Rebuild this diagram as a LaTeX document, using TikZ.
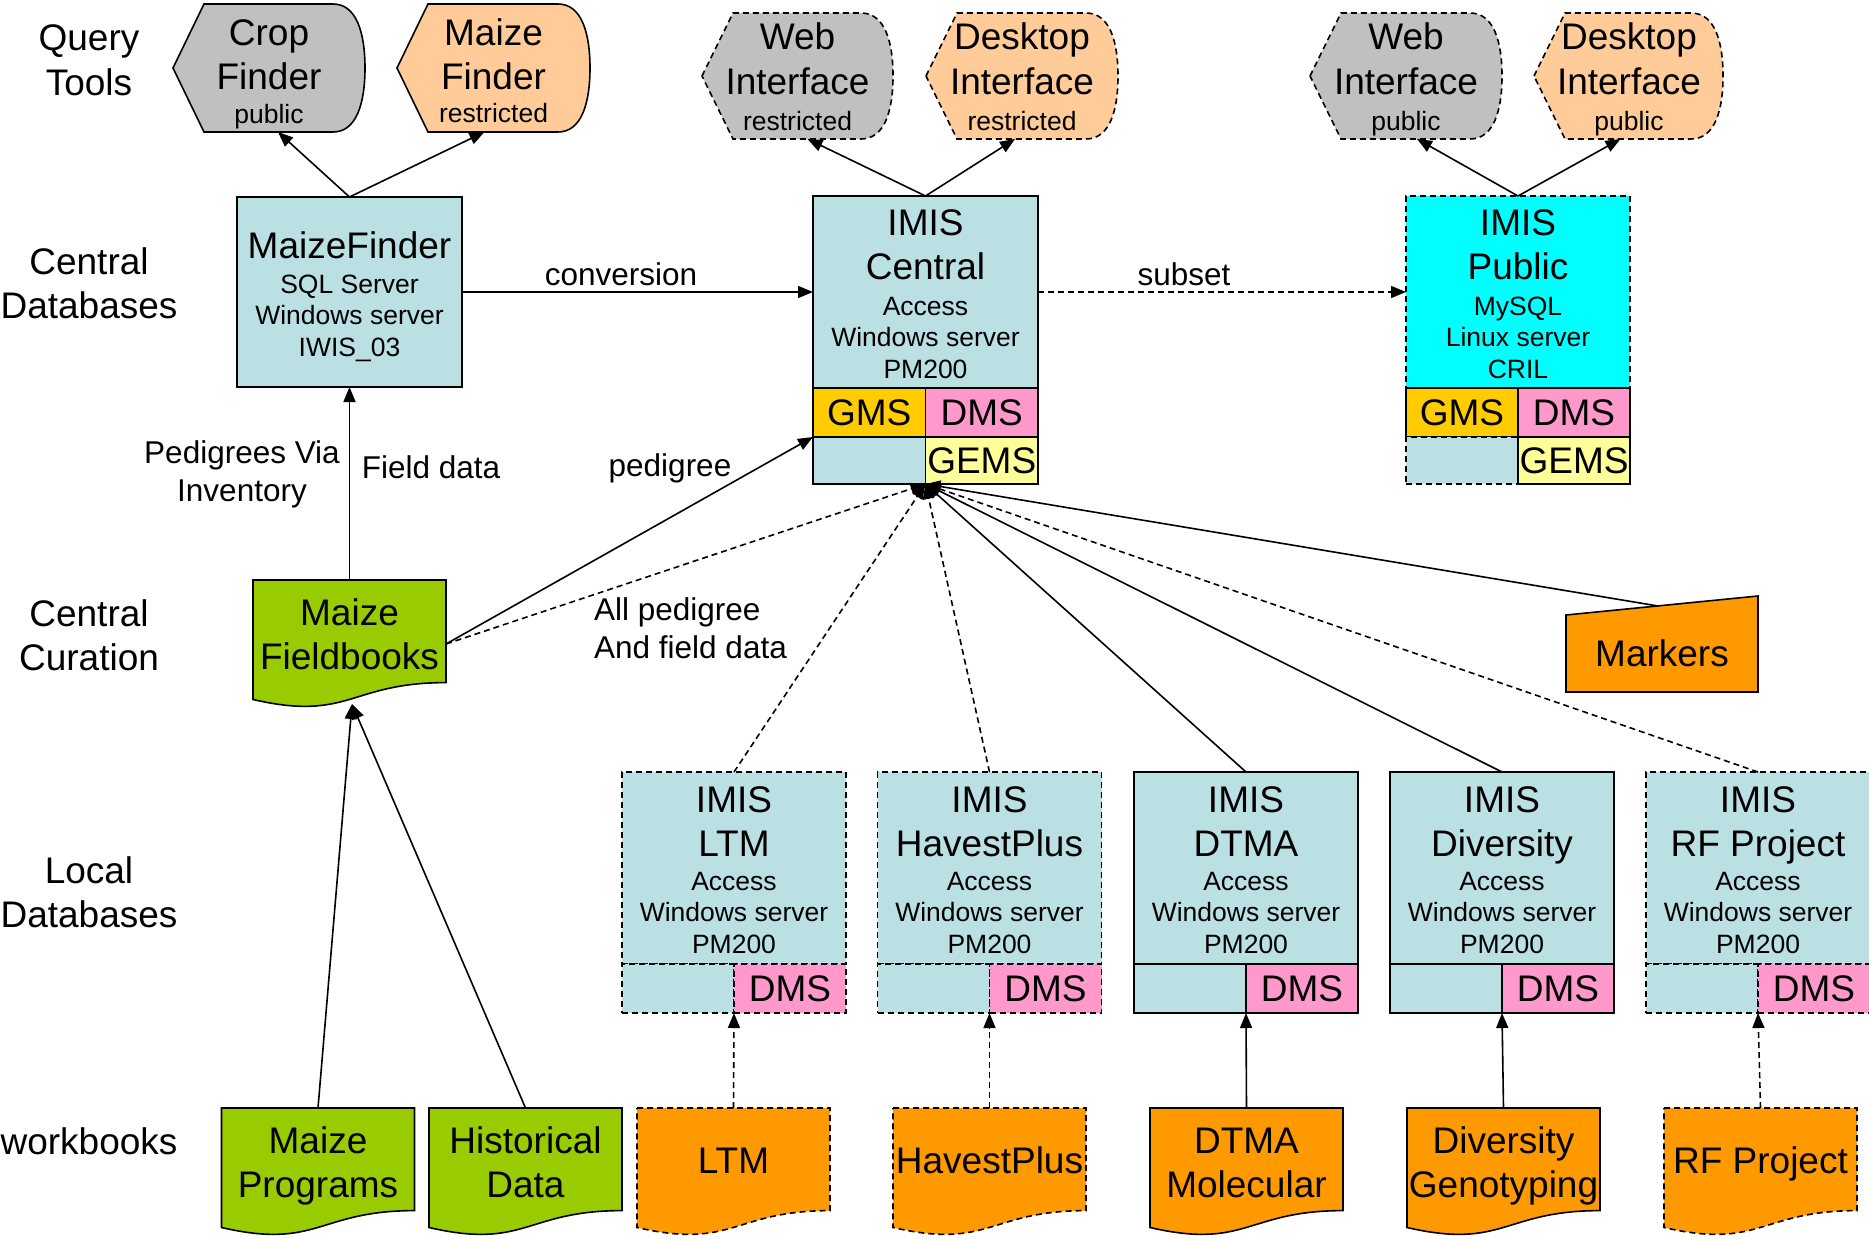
\documentclass[tikz,border=0pt]{standalone}
\usepackage{fontspec}
\setmainfont{Liberation Sans}
\usetikzlibrary{arrows.meta,calc}
\definecolor{lb}{HTML}{BBE0E3}
\definecolor{qgray}{HTML}{C0C0C0}
\definecolor{peach}{HTML}{FFCC99}
\definecolor{lgreen}{HTML}{99CC00}
\definecolor{orng}{HTML}{FF9900}
\definecolor{gmsc}{HTML}{FFCC00}
\definecolor{dmsc}{HTML}{FF99CC}
\definecolor{gemsc}{HTML}{FFFF99}
\definecolor{cyanc}{HTML}{00FFFF}
\newcommand\qshape[2]{\draw[lw,#2] (#1.west) -- ($(#1.north west)+(31,0)$) -- ($(#1.north east)+(-32,0)$) .. controls ($(#1.north east)+(-8,0)$) and ($(#1.east)+(0,-34)$) .. (#1.east) .. controls ($(#1.east)+(0,34)$) and ($(#1.south east)+(-8,0)$) .. ($(#1.south east)+(-32,0)$) -- ($(#1.south west)+(31,0)$) -- cycle;}
\newcommand\docshape[2]{\draw[lw,#2] (#1.north west) -- (#1.north east) -- ($(#1.north east)+(0,102.6)$) .. controls ($(#1.north)+(0,102.6)$) and ($(#1.north)+(0,141.8)$) .. ($(#1.north west)+(0,119.5)$) -- cycle;}
\begin{document}
\begin{tikzpicture}[x=1pt,y=-1pt,
  lw/.style={line width=1.6pt},
  dashb/.style={dash pattern=on 6pt off 4pt},
  solidb/.style={solid},
  box/.style={draw,lw,inner sep=0pt,outer sep=0pt,rectangle},
  tbig/.style={font=\fontsize{37}{44.5}\selectfont,align=center,inner sep=0pt,anchor=base},
  tsmall/.style={font=\fontsize{26.5}{31.8}\selectfont,align=center,inner sep=0pt,anchor=base},
  tlab/.style={font=\fontsize{31.5}{38}\selectfont,align=center,inner sep=0pt,anchor=base},
  b2/.style={tbig,yshift=-44.5pt},
  s3/.style={tsmall,yshift=-63.6pt},
  l2/.style={tlab,yshift=-38pt},
  ghost/.style={inner sep=0pt,outer sep=0pt},
  conn/.style={lw,-{Triangle[length=15pt,width=12pt]}},
]
\useasboundingbox[fill=white] (0,0) rectangle (1869,1239);

% ---------- left column labels
\node[b2] (lq) at (89,51) {Query\\Tools};
\node[b2] (lcd) at (89,274) {Central\\Databases};
\node[b2] (lcc) at (89,626) {Central\\Curation};
\node[b2] (lld) at (89,883) {Local\\Databases};
\node[tbig] (lw) at (89,1154) {workbooks};

% ---------- query tools
\node[ghost,minimum width=192,minimum height=128] (cf) at (269,68) {};
\qshape{cf}{fill=qgray}
\node[b2] (cft) at (269,45) {Crop\\Finder};
\node[tsmall] (cfs) at (269,123) {public};

\node[ghost,minimum width=193,minimum height=128] (mfi) at (493.5,68) {};
\qshape{mfi}{fill=peach}
\node[b2] (mfit) at (493.5,45) {Maize\\Finder};
\node[tsmall] (mfis) at (493.5,122) {restricted};

\node[ghost,minimum width=191,minimum height=126] (wr) at (797.5,76) {};
\qshape{wr}{fill=qgray,dashb}
\node[b2] (wrt) at (797.5,50) {Web\\Interface};
\node[tsmall] (wrs) at (797.5,130) {restricted};

\node[ghost,minimum width=192,minimum height=126] (dr) at (1022,76) {};
\qshape{dr}{fill=peach,dashb}
\node[b2] (drt) at (1022,50) {Desktop\\Interface};
\node[tsmall] (drs) at (1022,130) {restricted};

\node[ghost,minimum width=192,minimum height=126] (wp) at (1406,76) {};
\qshape{wp}{fill=qgray,dashb}
\node[b2] (wpt) at (1406,50) {Web\\Interface};
\node[tsmall] (wps) at (1406,130) {public};

\node[ghost,minimum width=189,minimum height=126] (dp) at (1628.5,76) {};
\qshape{dp}{fill=peach,dashb}
\node[b2] (dpt) at (1629,50) {Desktop\\Interface};
\node[tsmall] (dps) at (1629,130) {public};

% ---------- MaizeFinder
\node[box,fill=lb,minimum width=225,minimum height=190] (mf) at (349.5,292) {};
\node[tbig] (mft) at (349.5,258) {MaizeFinder};
\node[s3] (mfs) at (349.5,293) {SQL Server\\Windows server\\IWIS\_03};

% ---------- IMIS Central
\node[box,fill=lb,minimum width=225,minimum height=192] (cen) at (925.5,292) {};
\node[box,fill=gmsc,minimum width=112.5,minimum height=49,anchor=north west] (cen-gms) at (cen.south west) {};
\node[box,fill=dmsc,minimum width=112.5,minimum height=49,anchor=north east] (cen-dms) at (cen.south east) {};
\node[box,fill=lb,minimum width=112.5,minimum height=47,anchor=north west] (cen-low) at (cen-gms.south west) {};
\node[box,fill=gemsc,minimum width=112.5,minimum height=47,anchor=north east] (cen-gems) at (cen-dms.south east) {};
\node[b2] (cent) at (925.5,235) {IMIS\\Central};
\node[s3] (cens) at (925.5,315) {Access\\Windows server\\PM200};
\node[tbig] (cengt) at ([yshift=-13]cen-gms.center) {GMS};
\node[tbig] (cendt) at ([yshift=-13]cen-dms.center) {DMS};
\node[tbig] (cenet) at ([yshift=-13]cen-gems.center) {GEMS};

% ---------- IMIS Public
\node[box,dashb,fill=cyanc,minimum width=224,minimum height=192] (pub) at (1518,292) {};
\node[box,fill=gmsc,minimum width=112,minimum height=49,anchor=north west] (pub-gms) at (pub.south west) {};
\node[box,fill=dmsc,minimum width=112,minimum height=49,anchor=north east] (pub-dms) at (pub.south east) {};
\node[box,dashb,fill=lb,minimum width=112,minimum height=47,anchor=north west] (pub-low) at (pub-gms.south west) {};
\node[box,fill=gemsc,minimum width=112,minimum height=47,anchor=north east] (pub-gems) at (pub-dms.south east) {};
\node[b2] (pubt) at (1518,235) {IMIS\\Public};
\node[s3] (pubs) at (1518,315) {MySQL\\Linux server\\CRIL};
\node[tbig] (pubgt) at ([yshift=-13]pub-gms.center) {GMS};
\node[tbig] (pubdt) at ([yshift=-13]pub-dms.center) {DMS};
\node[tbig] (pubet) at ([yshift=-13]pub-gems.center) {GEMS};

% ---------- Maize Fieldbooks
\node[ghost,minimum width=193,minimum height=128] (fb) at (349.5,644) {};
\docshape{fb}{fill=lgreen}
\node[b2] (fbt) at (349.5,625) {Maize\\Fieldbooks};
\coordinate (fbb) at (352,704);

% ---------- Markers
\node[ghost,minimum width=192,minimum height=96] (mk) at (1662,644) {};
\draw[lw,fill=orng] (mk.south west) -- ($(mk.north west)+(0,19)$) -- (mk.north east) -- (mk.south east) -- cycle;
\node[tbig] (mkt) at (1662,666) {Markers};
\coordinate (mktop) at (1658,606);

% ---------- local databases
\foreach \n/\cx/\ttl/\st in {ltm/734/LTM/dashb, hp/989.5/HavestPlus/dashb, dtma/1246/DTMA/solidb, div/1502/Diversity/solidb, rf/1758/RF Project/dashb}{
  \node[box,\st,fill=lb,minimum width=224,minimum height=192] (\n) at (\cx,868) {};
  \node[box,\st,fill=lb,minimum width=112,minimum height=49,anchor=north west] (\n-low) at (\n.south west) {};
  \node[box,\st,fill=dmsc,minimum width=112,minimum height=49,anchor=north east] (\n-dms) at (\n.south east) {};
  \node[b2] (\n-t1) at (\cx,812) {IMIS\\\ttl};
  \node[s3] (\n-t2) at (\cx,890) {Access\\Windows server\\PM200};
  \node[tbig] (\n-t3) at ([yshift=-13]\n-dms.center) {DMS};
}

% ---------- workbooks
\foreach \n/\cx/\ttl/\col/\st/\by/\sty in {mpw/318/Maize\\Programs/lgreen/solidb/1153/b2, hdw/525.5/Historical\\Data/lgreen/solidb/1153/b2, ltmw/733.5/LTM/orng/dashb/1173/tbig, hpw/989.5/HavestPlus/orng/dashb/1173/tbig, dtmaw/1246.5/DTMA\\Molecular/orng/solidb/1153/b2, divw/1503.5/Diversity\\Genotyping/orng/solidb/1153/b2, rfw/1760.5/RF Project/orng/dashb/1173/tbig}{
  \node[ghost,minimum width=193,minimum height=128] (\n) at (\cx,1172) {};
  \docshape{\n}{fill=\col,\st}
  \node[\sty] (\n-t) at (\cx,\by) {\ttl};
}

% ---------- connectors
\draw[conn] (mf.north) -- ([xshift=9]cf.south);
\draw[conn] (mf.north) -- ([xshift=-9]mfi.south);
\draw[conn] (cen.north) -- ([xshift=10]wr.south);
\draw[conn] (cen.north) -- ([xshift=-7]dr.south);
\draw[conn] (pub.north) -- ([xshift=11]wp.south);
\draw[conn] (pub.north) -- ([xshift=-8]dp.south);
\draw[conn] (mf.east) -- (cen.west);
\draw[conn,dashb] (cen.east) -- (pub.west);
\draw[conn] (fb.north) -- (mf.south);
\draw[conn] (fb.east) -- (cen-low.north west);
\draw[conn,dashb] (fb.east) -- (cen-low.south east);
\draw[conn,dashb] (ltm.north) -- (cen-low.south east);
\draw[conn,dashb] (hp.north) -- (cen-low.south east);
\draw[conn] (dtma.north) -- (cen-low.south east);
\draw[conn] (div.north) -- (cen-low.south east);
\draw[conn,dashb] (rf.north) -- (cen-low.south east);
\draw[conn] (mktop) -- (cen-low.south east);
\draw[conn] (mpw.north) -- (fbb);
\draw[conn] (hdw.north) -- (fbb);
\draw[conn,dashb] (ltmw.north) -- (ltm-low.south east);
\draw[conn,dashb] (hpw.north) -- (hp-low.south east);
\draw[conn] (dtmaw.north) -- (dtma-low.south east);
\draw[conn] (divw.north) -- (div-low.south east);
\draw[conn,dashb] (rfw.north) -- (rf-low.south east);

% ---------- connector labels
\node[tlab] (lconv) at (621,285) {conversion};
\node[tlab] (lsub) at (1184,285) {subset};
\node[l2] (lped) at (242,463) {Pedigrees Via\\Inventory};
\node[tlab] (lfd) at (431,478) {Field data};
\node[tlab] (lpg) at (670,476) {pedigree};
\node[l2,align=left,anchor=base west] (lall) at (594,620) {All pedigree\\And field data};
\end{tikzpicture}
\end{document}
